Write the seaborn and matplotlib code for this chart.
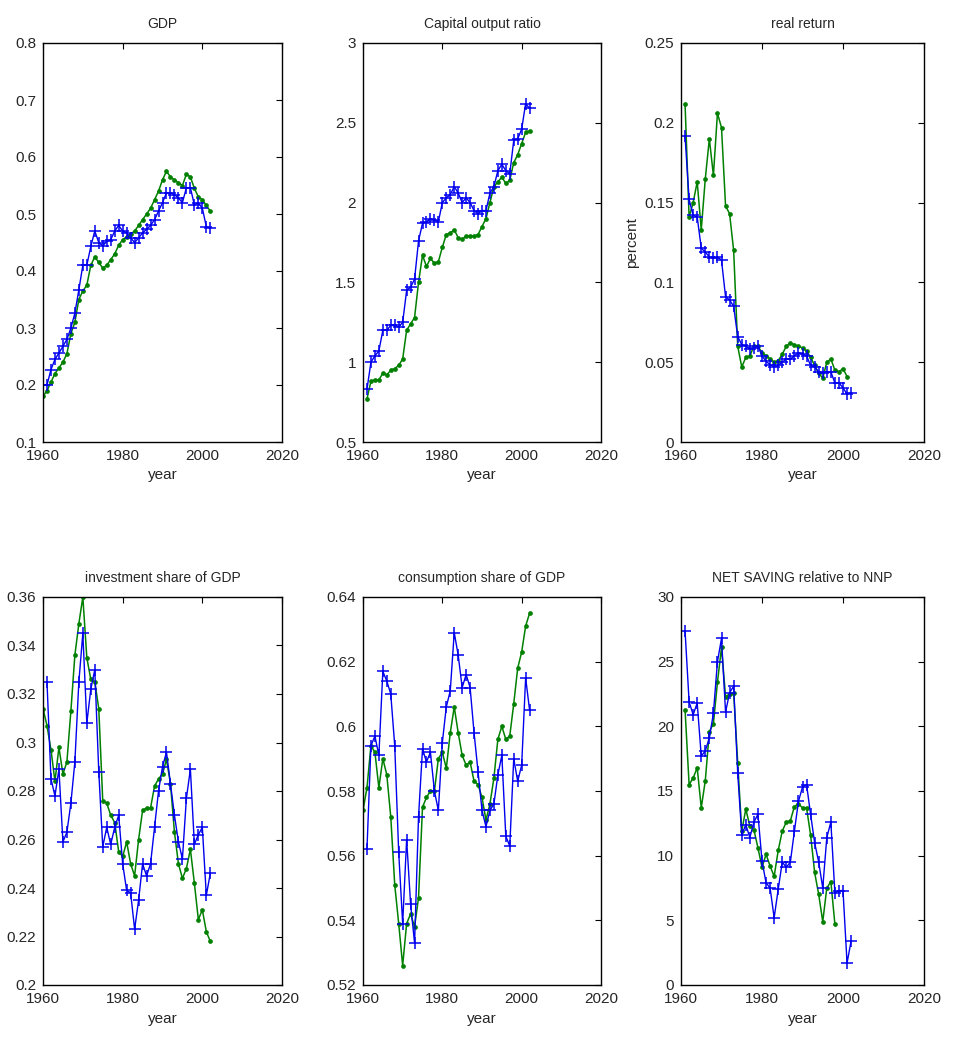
import numpy as np
import pandas as pd
import matplotlib
matplotlib.use("Agg")
import matplotlib.pyplot as plt
import seaborn as sns
from matplotlib.ticker import FuncFormatter

# ---------------- data ----------------
gdp_blue_years = list(range(1960, 2003))
gdp_blue = [0.20, 0.20, 0.227, 0.245, 0.256, 0.268, 0.28, 0.30, 0.326, 0.367, 0.41, 0.41,
            0.443, 0.47, 0.45, 0.444, 0.452, 0.455, 0.47, 0.48, 0.47, 0.467, 0.458, 0.45,
            0.458, 0.467, 0.473, 0.48, 0.49, 0.505, 0.52, 0.537, 0.537, 0.534, 0.528, 0.52,
            0.546, 0.546, 0.516, 0.52, 0.51, 0.478, 0.475]
gdp_green_years = list(range(1960, 2003))
gdp_green = [0.18, 0.19, 0.205, 0.22, 0.23, 0.24, 0.255, 0.29, 0.31, 0.35, 0.365, 0.375,
             0.41, 0.425, 0.415, 0.405, 0.41, 0.42, 0.43, 0.445, 0.455, 0.46, 0.465, 0.47,
             0.48, 0.49, 0.50, 0.51, 0.525, 0.54, 0.56, 0.575, 0.565, 0.56, 0.555, 0.55,
             0.57, 0.565, 0.545, 0.53, 0.525, 0.515, 0.505]

cap_blue_years = list(range(1961, 2003))
cap_blue = [0.83, 1.0, 1.04, 1.07, 1.2, 1.2, 1.23, 1.23, 1.22, 1.25, 1.45, 1.47, 1.52, 1.76,
            1.87, 1.88, 1.9, 1.89, 1.88, 2.0, 2.03, 2.05, 2.1, 2.06, 2.0, 2.03, 2.0, 1.95,
            1.93, 1.95, 1.95, 2.06, 2.1, 2.2, 2.24, 2.2, 2.18, 2.39, 2.4, 2.46, 2.62, 2.59]
cap_green_years = list(range(1961, 2003))
cap_green = [0.77, 0.88, 0.89, 0.89, 0.93, 0.92, 0.95, 0.96, 0.98, 1.02, 1.2, 1.24, 1.28,
             1.5, 1.67, 1.6, 1.65, 1.62, 1.63, 1.72, 1.8, 1.81, 1.83, 1.78, 1.77, 1.79, 1.79,
             1.79, 1.8, 1.85, 1.9, 2.0, 2.1, 2.13, 2.16, 2.12, 2.14, 2.25, 2.3, 2.37, 2.44, 2.45]

ret_blue_years = list(range(1961, 2003))
ret_blue = [0.1915, 0.152, 0.142, 0.141, 0.1215, 0.119, 0.116, 0.115, 0.116, 0.114, 0.091,
            0.089, 0.085, 0.066, 0.061, 0.060, 0.058, 0.059, 0.060, 0.054, 0.0505, 0.0485,
            0.047, 0.048, 0.050, 0.052, 0.052, 0.054, 0.056, 0.055, 0.054, 0.048, 0.047,
            0.044, 0.043, 0.044, 0.044, 0.037, 0.037, 0.034, 0.030, 0.031]
ret_green_years = list(range(1961, 2002))
ret_green = [0.212, 0.141, 0.15, 0.163, 0.133, 0.165, 0.19, 0.167, 0.206, 0.197, 0.148,
             0.143, 0.12, 0.06, 0.047, 0.053, 0.054, 0.06, 0.06, 0.056, 0.054, 0.052, 0.05,
             0.051, 0.055, 0.06, 0.062, 0.061, 0.06, 0.059, 0.057, 0.053, 0.048, 0.043,
             0.040, 0.050, 0.052, 0.045, 0.044, 0.046, 0.041]

inv_blue_years = list(range(1961, 2003))
inv_blue = [0.325, 0.285, 0.278, 0.289, 0.259, 0.263, 0.275, 0.292, 0.325, 0.345, 0.308,
            0.322, 0.330, 0.288, 0.257, 0.265, 0.258, 0.265, 0.270, 0.250, 0.239, 0.238,
            0.223, 0.235, 0.250, 0.245, 0.250, 0.265, 0.280, 0.290, 0.296, 0.283, 0.270,
            0.259, 0.252, 0.277, 0.289, 0.258, 0.262, 0.265, 0.237, 0.246]
inv_green_years = list(range(1960, 2003))
inv_green = [0.314, 0.307, 0.297, 0.284, 0.298, 0.287, 0.292, 0.313, 0.336, 0.349, 0.360,
             0.335, 0.326, 0.325, 0.314, 0.276, 0.275, 0.270, 0.267, 0.255, 0.253, 0.259,
             0.250, 0.245, 0.260, 0.272, 0.273, 0.273, 0.282, 0.285, 0.287, 0.293, 0.283,
             0.263, 0.250, 0.244, 0.248, 0.256, 0.242, 0.227, 0.231, 0.222, 0.218]

con_blue_years = list(range(1961, 2003))
con_blue = [0.562, 0.594, 0.597, 0.591, 0.617, 0.614, 0.610, 0.594, 0.561, 0.539, 0.565,
            0.545, 0.533, 0.572, 0.593, 0.589, 0.592, 0.580, 0.574, 0.595, 0.606, 0.611,
            0.629, 0.622, 0.612, 0.616, 0.612, 0.598, 0.586, 0.574, 0.569, 0.574, 0.576,
            0.585, 0.591, 0.566, 0.563, 0.590, 0.583, 0.588, 0.615, 0.605]
con_green_years = list(range(1960, 2003))
con_green = [0.574, 0.581, 0.594, 0.592, 0.581, 0.590, 0.585, 0.572, 0.551, 0.539, 0.526,
             0.539, 0.542, 0.538, 0.547, 0.575, 0.578, 0.580, 0.580, 0.590, 0.592, 0.587,
             0.598, 0.606, 0.598, 0.591, 0.588, 0.589, 0.583, 0.582, 0.578, 0.571, 0.576,
             0.584, 0.596, 0.600, 0.596, 0.597, 0.607, 0.618, 0.623, 0.631, 0.635]

sav_blue_years = list(range(1961, 2003))
sav_blue = [27.4, 21.9, 20.9, 21.8, 17.7, 18.1, 19.1, 21.0, 25.0, 26.8, 21.1, 22.6, 23.1,
            16.4, 11.6, 12.4, 11.4, 12.6, 13.2, 9.6, 7.9, 7.5, 5.2, 7.4, 9.5, 9.1, 9.5,
            11.9, 14.2, 15.3, 15.5, 13.2, 11.0, 9.5, 7.5, 11.4, 12.6, 7.1, 7.3, 7.3, 1.7, 3.4]
sav_green_years = list(range(1961, 1999))
sav_green = [21.3, 15.5, 16.0, 16.8, 13.7, 15.8, 19.6, 20.2, 23.4, 26.1, 22.3, 22.5, 22.6,
             17.2, 11.9, 13.6, 12.3, 12.0, 10.6, 9.1, 10.1, 9.2, 8.4, 10.4, 11.9, 12.6, 12.7,
             13.8, 14.0, 13.7, 13.7, 11.6, 8.7, 7.0, 4.9, 7.5, 8.0, 4.7]

titles = ["GDP", "Capital output ratio", "real return",
          "investment share of GDP", "consumption share of GDP", "NET SAVING relative to NNP"]
ylims = [(0.1, 0.8), (0.5, 3.0), (0.0, 0.25), (0.2, 0.36), (0.52, 0.64), (0.0, 30.0)]
ysteps = [0.1, 0.5, 0.05, 0.02, 0.02, 5]
xticks = [1960, 1980, 2000, 2020]

panels = [
    (gdp_blue_years, gdp_blue, gdp_green_years, gdp_green),
    (cap_blue_years, cap_blue, cap_green_years, cap_green),
    (ret_blue_years, ret_blue, ret_green_years, ret_green),
    (inv_blue_years, inv_blue, inv_green_years, inv_green),
    (con_blue_years, con_blue, con_green_years, con_green),
    (sav_blue_years, sav_blue, sav_green_years, sav_green),
]

# ---------------- style ----------------
sns.set_style("white")
plt.rcParams["font.family"] = ["Liberation Sans", "DejaVu Sans"]
plt.rcParams["xtick.direction"] = "in"
plt.rcParams["ytick.direction"] = "in"

fig = plt.figure(figsize=(9.54, 10.55), dpi=100)
W, H = 954.0, 1055.0
lefts = [43, 363, 681]
rights = [282, 601, 924]
tops = [43, 597]
bottoms = [442, 985]

BLUE = "#0000ee"
GREEN = "#008000"

def fmt(v, pos):
    return "%g" % round(v, 4)

for i, (bx, by, gx, gy) in enumerate(panels):
    r, c = divmod(i, 3)
    ax = fig.add_axes([lefts[c] / W, 1 - bottoms[r] / H,
                       (rights[c] - lefts[c]) / W, (bottoms[r] - tops[r]) / H])
    dg = pd.DataFrame({"year": gx, "value": gy})
    db = pd.DataFrame({"year": bx, "value": by})
    sns.lineplot(data=dg, x="year", y="value", ax=ax, color=GREEN, marker="o",
                 markersize=2.8, linewidth=1.1, markeredgecolor=GREEN,
                 markerfacecolor=GREEN, markeredgewidth=0.5, estimator=None)
    sns.lineplot(data=db, x="year", y="value", ax=ax, color=BLUE, marker="+",
                 markersize=8.5, markeredgewidth=1.1, markeredgecolor=BLUE,
                 linewidth=1.0, estimator=None)
    ax.set_xlim(1960, 2020)
    ax.set_xticks(xticks)
    lo, hi = ylims[i]
    ax.set_ylim(lo, hi)
    ax.set_yticks(np.round(np.arange(lo, hi + ysteps[i] / 2, ysteps[i]), 4))
    ax.yaxis.set_major_formatter(FuncFormatter(fmt))
    ax.tick_params(axis="both", which="both", top=True, right=True, length=4,
                   width=0.8, labelsize=11, color="black", pad=5)
    for s in ax.spines.values():
        s.set_visible(True)
        s.set_color("black")
        s.set_linewidth(1.0)
    ax.set_title(titles[i], fontsize=10, pad=11)
    ax.set_xlabel("year", fontsize=11, labelpad=4)
    ax.set_ylabel("percent" if i == 2 else "", fontsize=11, labelpad=4)

fig.savefig("out.png", dpi=100, facecolor="white")
